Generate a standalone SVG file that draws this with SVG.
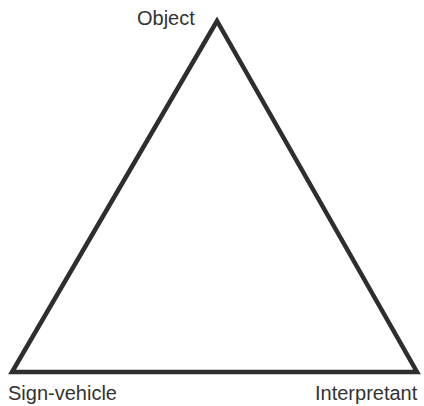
<svg xmlns="http://www.w3.org/2000/svg" width="424" height="406" viewBox="0 0 424 406">
<style>
.lbl{font-family:"Liberation Sans",Arial,sans-serif;font-size:20px;fill:#333}
.tri{fill:none;stroke:#2e2e2e;stroke-width:4.5;stroke-linejoin:miter}
</style>
<rect width="424" height="406" fill="#fff"/>
<g id="connectors">
<polygon class="tri" points="217,21 12,372 417,372"/>
</g>
<g id="object"><text class="lbl" x="137" y="25">Object</text></g>
<g id="sign-vehicle"><text class="lbl" x="8" y="400">Sign-vehicle</text></g>
<g id="interpretant"><text class="lbl" x="315" y="400">Interpretant</text></g>
</svg>
